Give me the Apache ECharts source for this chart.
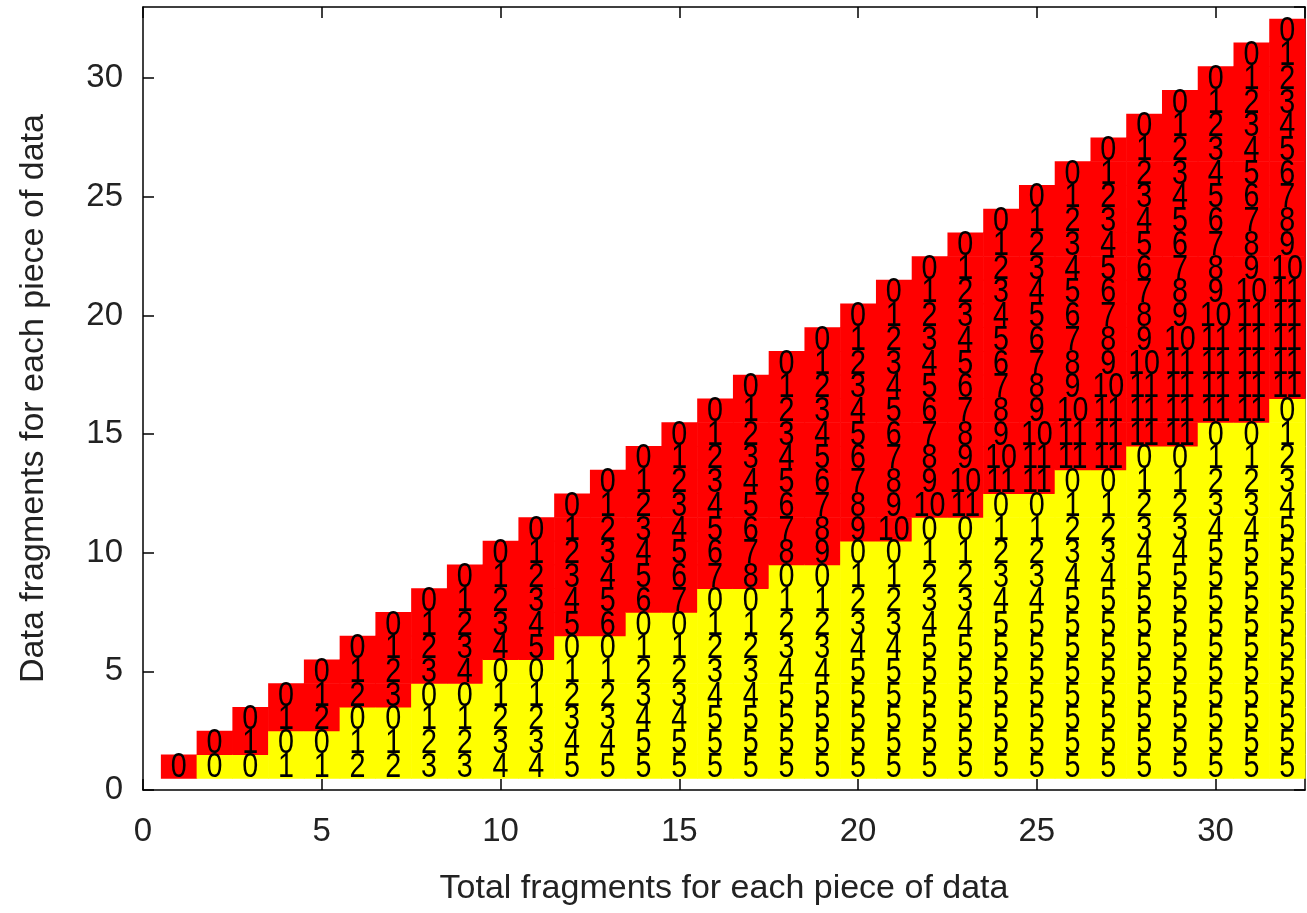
<!DOCTYPE html>
<html>
<head>
<meta charset="utf-8">
<script src="https://cdn.jsdelivr.net/npm/echarts@6/dist/echarts.min.js"></script>
<style>
html,body{margin:0;padding:0;background:#fff;}
#chart{width:1307px;height:913px;}
</style>
</head>
<body>
<div id="chart"></div>
<script>
// Column = total fragments (x). Each column lists labels from k=1 upward.
var totalFragments = [1,2,3,4,5,6,7,8,9,10,11,12,13,14,15,16,17,18,19,20,21,22,23,24,25,26,27,28,29,30,31,32];
// number of yellow cells (from the bottom) in each column; the rest are red
var yellowRows = [0,1,1,2,2,3,3,4,4,5,5,6,6,7,7,8,8,9,9,10,10,11,11,12,12,13,13,14,14,15,15,16];
var cellLabels = [
  [0],
  [0,0],
  [0,1,0],
  [1,0,1,0],
  [1,0,2,1,0],
  [2,1,0,2,1,0],
  [2,1,0,3,2,1,0],
  [3,2,1,0,3,2,1,0],
  [3,2,1,0,4,3,2,1,0],
  [4,3,2,1,0,4,3,2,1,0],
  [4,3,2,1,0,5,4,3,2,1,0],
  [5,4,3,2,1,0,5,4,3,2,1,0],
  [5,4,3,2,1,0,6,5,4,3,2,1,0],
  [5,5,4,3,2,1,0,6,5,4,3,2,1,0],
  [5,5,4,3,2,1,0,7,6,5,4,3,2,1,0],
  [5,5,5,4,3,2,1,0,7,6,5,4,3,2,1,0],
  [5,5,5,4,3,2,1,0,8,7,6,5,4,3,2,1,0],
  [5,5,5,5,4,3,2,1,0,8,7,6,5,4,3,2,1,0],
  [5,5,5,5,4,3,2,1,0,9,8,7,6,5,4,3,2,1,0],
  [5,5,5,5,5,4,3,2,1,0,9,8,7,6,5,4,3,2,1,0],
  [5,5,5,5,5,4,3,2,1,0,10,9,8,7,6,5,4,3,2,1,0],
  [5,5,5,5,5,5,4,3,2,1,0,10,9,8,7,6,5,4,3,2,1,0],
  [5,5,5,5,5,5,4,3,2,1,0,11,10,9,8,7,6,5,4,3,2,1,0],
  [5,5,5,5,5,5,5,4,3,2,1,0,11,10,9,8,7,6,5,4,3,2,1,0],
  [5,5,5,5,5,5,5,4,3,2,1,0,11,11,10,9,8,7,6,5,4,3,2,1,0],
  [5,5,5,5,5,5,5,5,4,3,2,1,0,11,11,10,9,8,7,6,5,4,3,2,1,0],
  [5,5,5,5,5,5,5,5,4,3,2,1,0,11,11,11,10,9,8,7,6,5,4,3,2,1,0],
  [5,5,5,5,5,5,5,5,5,4,3,2,1,0,11,11,11,10,9,8,7,6,5,4,3,2,1,0],
  [5,5,5,5,5,5,5,5,5,4,3,2,1,0,11,11,11,11,10,9,8,7,6,5,4,3,2,1,0],
  [5,5,5,5,5,5,5,5,5,5,4,3,2,1,0,11,11,11,11,10,9,8,7,6,5,4,3,2,1,0],
  [5,5,5,5,5,5,5,5,5,5,4,3,2,1,0,11,11,11,11,11,10,9,8,7,6,5,4,3,2,1,0],
  [5,5,5,5,5,5,5,5,5,5,5,4,3,2,1,0,11,11,11,11,11,10,9,8,7,6,5,4,3,2,1,0]
];
var xTitle = 'Total fragments for each piece of data';
var yTitle = 'Data fragments for each piece of data';

var cells = [];
totalFragments.forEach(function (n, i) {
  cellLabels[i].forEach(function (lab, j) {
    var k = j + 1;
    cells.push([n, k, lab, k <= yellowRows[i] ? 1 : 0]);
  });
});

var FONT = '"Liberation Sans", Arial, Helvetica, sans-serif';
var chart = echarts.init(document.getElementById('chart'), null, {renderer: 'canvas'});

function fmt(v) { return (Math.abs(v % 5) < 1e-9) ? String(v) : ''; }

var axisCommon = {
  min: 0,
  interval: 5,
  axisLine: {show: true, onZero: false, lineStyle: {color: '#000', width: 1.5}},
  axisTick: {show: true, inside: true, length: 11, lineStyle: {color: '#000', width: 1.5}},
  splitLine: {show: false}
};

chart.setOption({
  animation: false,
  backgroundColor: '#fff',
  grid: {left: 143, right: 2, top: 7, bottom: 123, containLabel: false},
  xAxis: [
    Object.assign({}, axisCommon, {
      type: 'value', max: 32.5, position: 'bottom',
      name: xTitle, nameLocation: 'middle', nameGap: 82,
      nameTextStyle: {fontFamily: FONT, fontSize: 34, color: '#222'},
      axisLabel: {formatter: fmt, margin: 25, fontFamily: FONT, fontSize: 33, color: '#222', showMaxLabel: false}
    }),
    Object.assign({}, axisCommon, {
      type: 'value', max: 32.5, position: 'top', axisLabel: {show: false}
    })
  ],
  yAxis: [
    Object.assign({}, axisCommon, {
      type: 'value', max: 33, position: 'left',
      name: yTitle, nameLocation: 'middle', nameGap: 92,
      nameTextStyle: {fontFamily: FONT, fontSize: 34, color: '#222'},
      axisLabel: {formatter: fmt, margin: 20, fontFamily: FONT, fontSize: 33, color: '#222', showMaxLabel: false}
    }),
    Object.assign({}, axisCommon, {
      type: 'value', max: 33, position: 'right', axisLabel: {show: false}
    })
  ],
  series: [
    {
      type: 'custom',
      xAxisIndex: 0, yAxisIndex: 0,
      data: cells,
      z: 1,
      renderItem: function (params, api) {
        var n = api.value(0), k = api.value(1);
        var p0 = api.coord([n - 0.5, k + 0.5]);
        var p1 = api.coord([n + 0.5, k - 0.5]);
        return {
          type: 'rect',
          shape: {x: p0[0], y: p0[1], width: p1[0] - p0[0] + 0.6, height: p1[1] - p0[1] + 0.6},
          style: {fill: api.value(3) ? '#ffff00' : '#ff0000'}
        };
      }
    },
    {
      type: 'custom',
      xAxisIndex: 0, yAxisIndex: 0,
      data: cells,
      z: 2,
      renderItem: function (params, api) {
        var n = api.value(0), k = api.value(1);
        var c = api.coord([n, k]);
        return {
          type: 'text',
          x: c[0], y: c[1] + 1,
          scaleX: 0.82,
          style: {
            text: String(api.value(2)),
            fontFamily: FONT, fontSize: 35,
            fill: '#000',
            align: 'center', verticalAlign: 'middle'
          }
        };
      }
    }
  ]
});
</script>
</body>
</html>
